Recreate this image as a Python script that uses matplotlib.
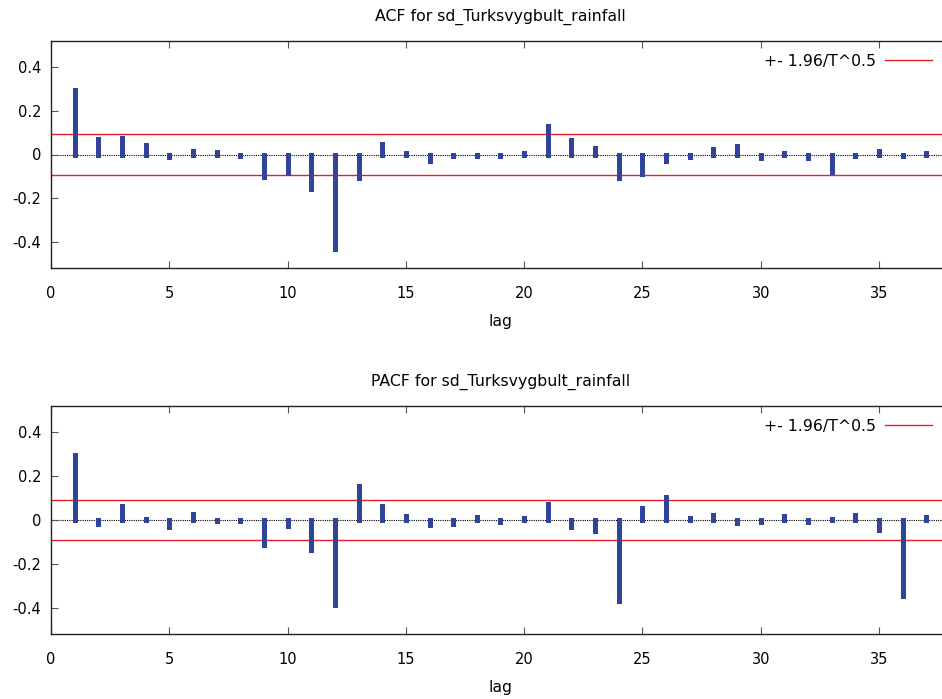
import numpy as np
import matplotlib
matplotlib.use("Agg")
from matplotlib import pyplot as plt

plt.rcParams['font.family'] = ['DejaVu Sans']
plt.rcParams['font.size'] = 10.5
plt.rcParams['axes.unicode_minus'] = False

lags = np.arange(1, 38)

acf_vals = [0.296, 0.072, 0.075, 0.043, -0.012, 0.017, 0.012, -0.005, -0.104, -0.084,
            -0.160, -0.435, -0.107, 0.047, 0.008, -0.032, -0.009, -0.006, -0.006, 0.008,
            0.131, 0.067, 0.031, -0.108, -0.090, -0.031, -0.011, 0.024, 0.037, -0.017,
            0.005, -0.014, -0.081, -0.006, 0.017, -0.005, 0.005]

pacf_vals = [0.296, -0.020, 0.066, 0.006, -0.032, 0.029, -0.006, -0.004, -0.113, -0.026,
             -0.137, -0.388, 0.154, 0.064, 0.018, -0.024, -0.020, 0.015, -0.009, 0.009,
             0.072, -0.034, -0.052, -0.369, 0.055, 0.105, 0.009, 0.023, -0.014, -0.008,
             0.017, -0.008, 0.004, 0.021, -0.046, -0.348, 0.014]

conf_band = 0.092
titles = ["ACF for sd_Turksvygbult_rainfall", "PACF for sd_Turksvygbult_rainfall"]
yticks = [-0.4, -0.2, 0, 0.2, 0.4]
ytick_labels = ["-0.4", "-0.2", "0", "0.2", "0.4"]
xticks = [0, 5, 10, 15, 20, 25, 30, 35]

W, H = 942, 699
fig = plt.figure(figsize=(W / 100, H / 100), dpi=100)

# pixel boxes (left, top, right, bottom) of the two panels
boxes = [(51, 40.7, 950, 268.3), (51, 405.7, 950, 634.3)]
bar_color = '#30449a'
red = '#f01e28'

for box, vals, title in zip(boxes, [acf_vals, pacf_vals], titles):
    l, t, r, b = box
    ax = fig.add_axes([l / W, 1 - b / H, (r - l) / W, (b - t) / H])
    ax.set_xlim(0, 38)
    ax.set_ylim(-0.522, 0.522)

    ax.axhline(0, color='black', lw=0.8, ls=(0, (1, 1)), zorder=1)
    ax.axhline(conf_band, color=red, lw=1.0, zorder=2, label='+- 1.96/T^0.5')
    ax.axhline(-conf_band, color=red, lw=1.0, zorder=2)
    ax.vlines(lags, 0, vals, colors=bar_color, lw=3.6, capstyle='projecting', zorder=3)

    ax.set_yticks(yticks)
    ax.set_yticklabels(ytick_labels)
    ax.set_xticks(xticks)
    ax.tick_params(axis='both', direction='in', length=5, width=0.8, color='#555555')
    ax.tick_params(axis='x', top=True, pad=13)
    ax.tick_params(axis='y', pad=7)
    ax.spines['right'].set_visible(False)
    for s in ['left', 'top', 'bottom']:
        ax.spines[s].set_linewidth(1.0)
        ax.spines[s].set_color('#222222')

    ax.set_title(title, pad=14, fontsize=11.3)
    ax.set_xlabel('lag', labelpad=9, fontsize=11.3)

    ax.legend(loc='upper right', frameon=False, markerfirst=False,
              handlelength=3.0, handletextpad=0.6, borderpad=0, borderaxespad=0,
              fontsize=11.3,
              bbox_to_anchor=(932 / W, 1 - (t + 13) / H),
              bbox_transform=fig.transFigure)

fig.savefig('out.png', dpi=100)
